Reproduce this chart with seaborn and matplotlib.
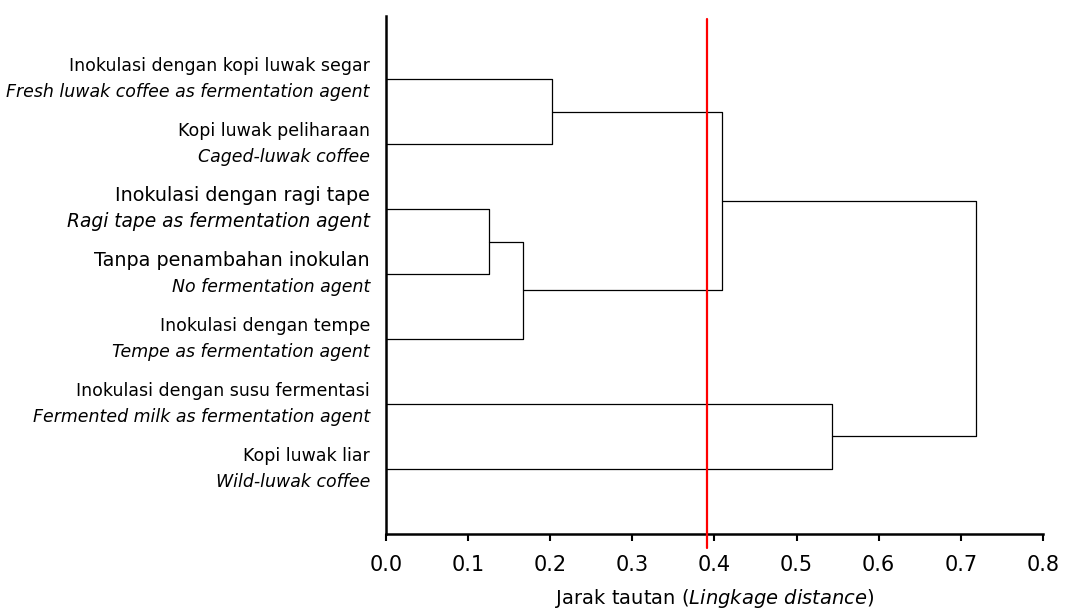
import numpy as np
import pandas as pd
import matplotlib
matplotlib.use("Agg")
import matplotlib.pyplot as plt
import seaborn as sns

# ---------------- data ----------------
# leaves, top to bottom
labels_id = [
    "Inokulasi dengan kopi luwak segar",
    "Kopi luwak peliharaan",
    "Inokulasi dengan ragi tape",
    "Tanpa penambahan inokulan",
    "Inokulasi dengan tempe",
    "Inokulasi dengan susu fermentasi",
    "Kopi luwak liar",
]
labels_en = [
    "Fresh luwak coffee as fermentation agent",
    "Caged-luwak coffee",
    "Ragi tape as fermentation agent",
    "No fermentation agent",
    "Tempe as fermentation agent",
    "Fermented milk as fermentation agent",
    "Wild-luwak coffee",
]

# linkage: node ids merged (leaves 0..6, new clusters 7..12) and linkage distance
merge_left = [0, 2, 8, 7, 5, 10]
merge_right = [1, 3, 4, 9, 6, 11]
merge_height = [0.202, 0.125, 0.167, 0.409, 0.543, 0.718]

cut_distance = 0.391

xtick_values = [0.0, 0.1, 0.2, 0.3, 0.4, 0.5, 0.6, 0.7, 0.8]
xtick_labels = ["0.0", "0.1", "0.2", "0.3", "0.4", "0.5", "0.6", "0.7", "0.8"]

# ---------------- build dendrogram segments ----------------
n = len(labels_id)
node_y = list(range(n))
node_h = [0.0] * n
rows = []
for k, (a, b, h) in enumerate(zip(merge_left, merge_right, merge_height)):
    ya, yb = node_y[a], node_y[b]
    for x, y in [(node_h[a], ya), (h, ya), (h, yb), (node_h[b], yb)]:
        rows.append({"seg": k, "x": x, "y": y})
    node_y.append((ya + yb) / 2.0)
    node_h.append(h)
seg_df = pd.DataFrame(rows)

# ---------------- style ----------------
sns.set_style("white")
plt.rcParams["font.family"] = ["DejaVu Sans"]
plt.rcParams["mathtext.fontset"] = "dejavusans"

fig = plt.figure(figsize=(10.65, 6.12), dpi=100)
ax = fig.add_axes([0.3624, 0.1275, 0.6169, 0.8464])

sns.lineplot(data=seg_df, x="x", y="y", units="seg", estimator=None,
             sort=False, color="black", lw=0.9, ax=ax, legend=False)

ax.axvline(cut_distance, ymin=-0.027, ymax=0.994, color="#ff0000",
           lw=1.6, clip_on=False, zorder=5)

ax.set_xlim(0, 0.8)
ax.set_ylim(7.0, -0.97)
sns.despine(ax=ax)
for side in ("left", "bottom"):
    ax.spines[side].set_linewidth(1.8)
    ax.spines[side].set_color("black")

ax.set_yticks([])
ax.set_ylabel("")
ax.set_xticks(xtick_values, xtick_labels)
ax.tick_params(axis="x", direction="out", length=5, width=1.5, pad=10.5,
               labelsize=15, colors="black", bottom=True)
ax.set_xlabel(r"Jarak tautan ($\mathit{Lingkage\ distance}$)",
              fontsize=14, labelpad=8, color="black")

big_title = {2, 3}
big_sub = {2}
for i in range(n):
    ax.annotate(labels_id[i], xy=(0, i), xycoords="data",
                xytext=(-11.5, 9.6), textcoords="offset points",
                ha="right", va="center", color="black",
                fontsize=13.8 if i in big_title else 12.5)
    ax.annotate(labels_en[i], xy=(0, i), xycoords="data",
                xytext=(-11.5, -9.2), textcoords="offset points",
                ha="right", va="center", color="black", style="italic",
                fontsize=13.4 if i in big_sub else 12.5)

fig.savefig("out.png", dpi=100)
